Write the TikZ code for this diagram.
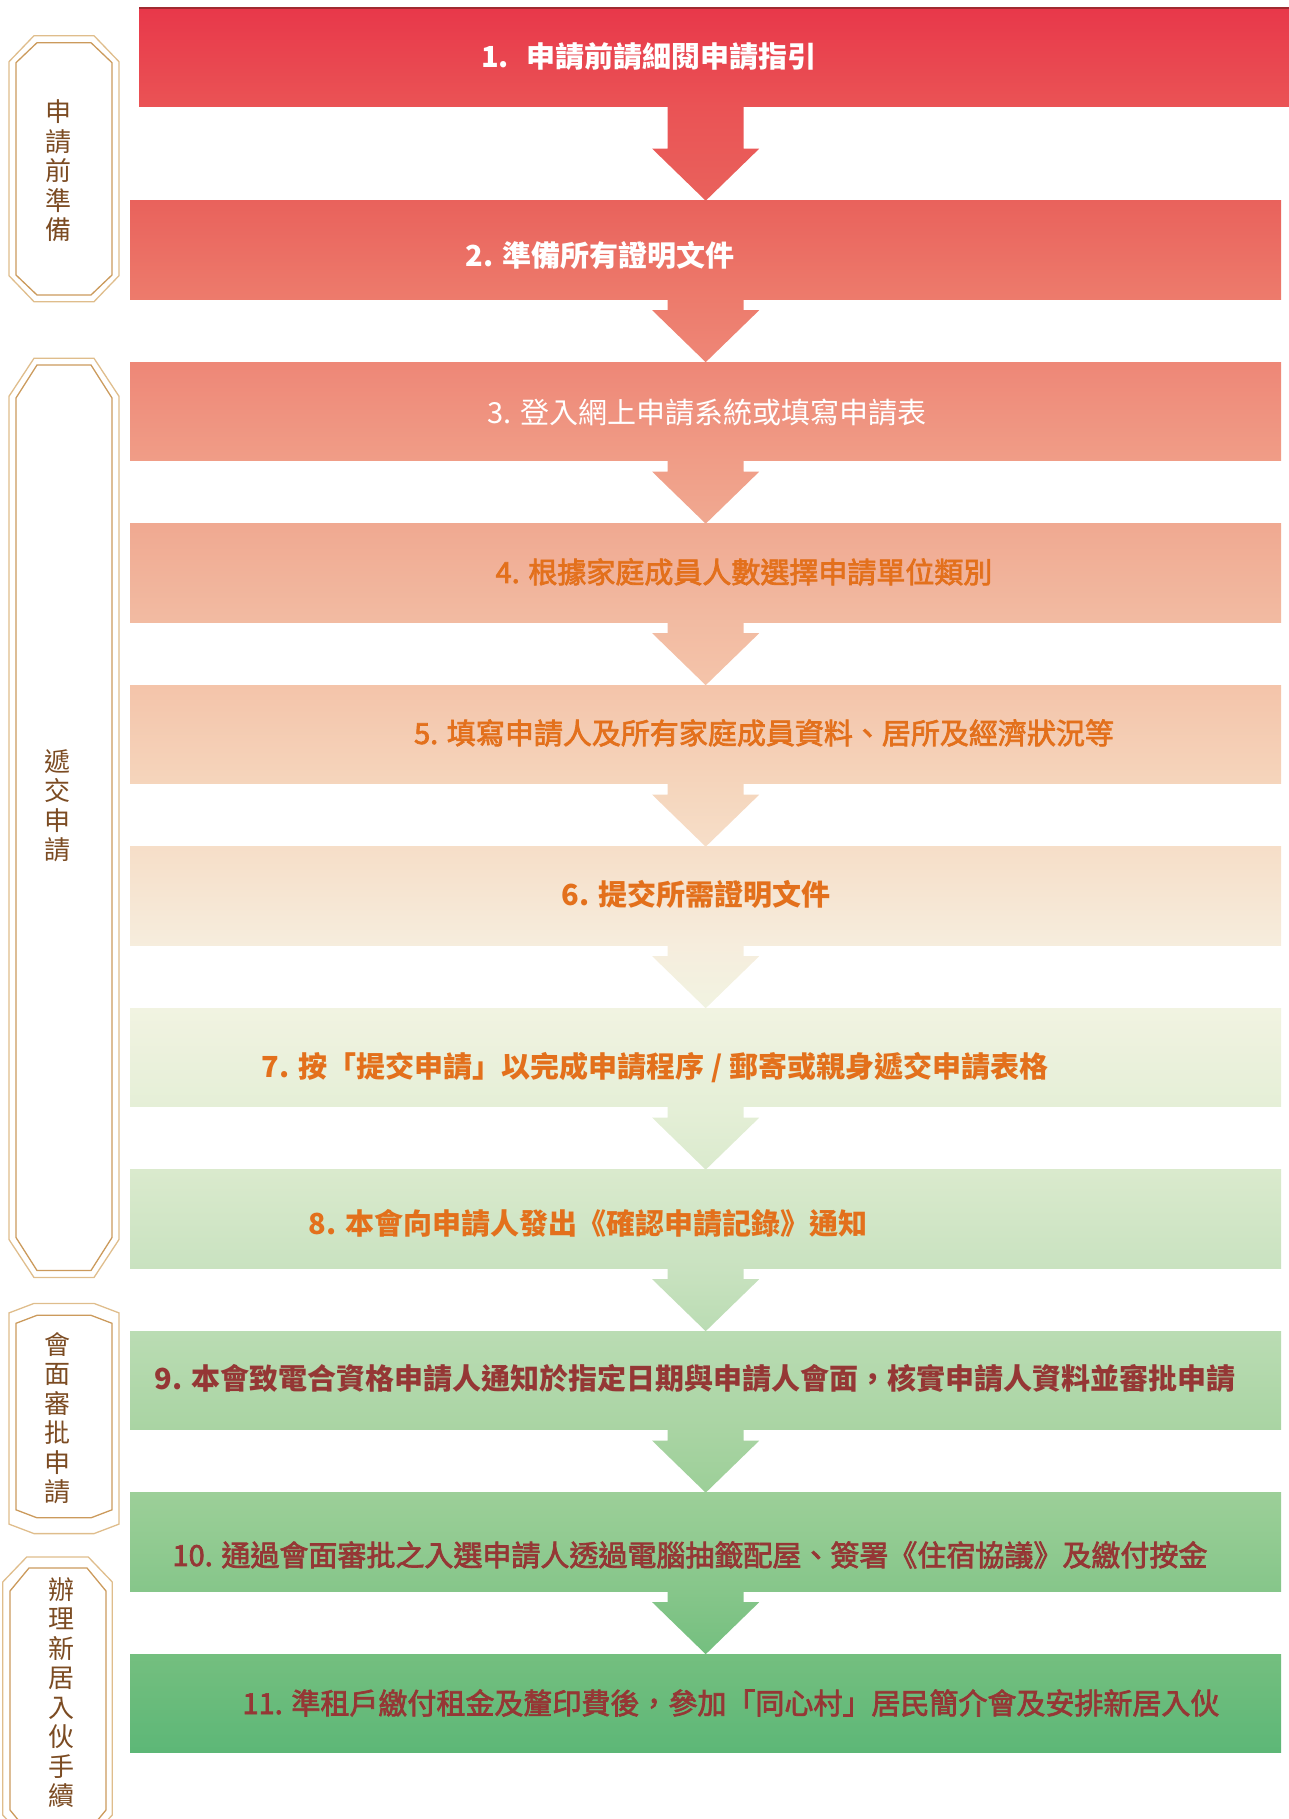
\documentclass[tikz,border=0pt]{standalone}
\usepackage{fontspec}
\setmainfont{Noto Sans CJK TC}
\newfontfamily\cjkmed[FakeBold=2.5]{Noto Sans CJK TC}
\usetikzlibrary{calc}

% bar colours, top and bottom of each bar
\definecolor{top1}{HTML}{E8384A}  \definecolor{bot1}{HTML}{EA5355}
\definecolor{top2}{HTML}{E9625C}  \definecolor{bot2}{HTML}{ED7B6C}
\definecolor{top3}{HTML}{EE8777}  \definecolor{bot3}{HTML}{F09D87}
\definecolor{top4}{HTML}{F0A991}  \definecolor{bot4}{HTML}{F2BBA2}
\definecolor{top5}{HTML}{F4C4AA}  \definecolor{bot5}{HTML}{F5D5BC}
\definecolor{top6}{HTML}{F6DEC8}  \definecolor{bot6}{HTML}{F6EDDD}
\definecolor{top7}{HTML}{F1F3E1}  \definecolor{bot7}{HTML}{E5EFD7}
\definecolor{top8}{HTML}{DAEACD}  \definecolor{bot8}{HTML}{C9E2C0}
\definecolor{top9}{HTML}{BADCB3}  \definecolor{bot9}{HTML}{A9D4A3}
\definecolor{top10}{HTML}{9CCF98} \definecolor{bot10}{HTML}{86C68A}
\definecolor{top11}{HTML}{74BF7F} \definecolor{bot11}{HTML}{5DB777}

\definecolor{txtorange}{HTML}{E3701C}
\definecolor{txtmaroon}{HTML}{953735}
\definecolor{sidebrown}{HTML}{7B4B22}
\definecolor{frameout}{HTML}{DFBD8C}
\definecolor{framein}{HTML}{CB9A5C}
\definecolor{barline}{HTML}{A02A30}

\tikzset{
  bar/.style={inner sep=0, anchor=north west, minimum height=98.5pt},
  txtbold/.style={inner sep=0, font=\fontsize{29}{34}\selectfont\bfseries},
  txtreg/.style={inner sep=0, font=\fontsize{29}{34}\selectfont},
  txtmed/.style={inner sep=0, font=\fontsize{29}{34}\selectfont\cjkmed},
  sidetxt/.style={inner sep=0, align=center, text=sidebrown,
    font=\fontsize{26}{29.5}\selectfont}
}

\begin{document}
\begin{tikzpicture}[x=1pt, y=-1pt]
  \useasboundingbox (0,0) rectangle (1289,1819);

  % the eleven bars
  \foreach \n/\x/\y/\w in {1/139/8/1150, 2/130/200.7/1151, 3/130/362.2/1151,
      4/130/523.7/1151, 5/130/685.2/1151, 6/130/846.7/1151, 7/130/1008.2/1151,
      8/130/1169.7/1151, 9/130/1331.2/1151, 10/130/1492.7/1151, 11/130/1654.2/1151}
    \node[bar, minimum width=\w pt, top color=top\n, bottom color=bot\n] (b\n) at (\x,\y) {};
  \draw[barline, line width=1.5pt] (b1.north west) -- (b1.north east);

  % block arrows between bars
  \foreach \i [count=\j from 2] in {1,...,10}
  {
    \coordinate (a\i) at (b\i.south -| b\j.north);
    \shade[top color=bot\i, bottom color=top\j]
      ($(a\i)+(-38,0)$) -- ($(a\i)+(38,0)$) -- ($(b\j.north)+(38,-52)$)
      -- ($(b\j.north)+(53.5,-52)$) -- (b\j.north) -- ($(b\j.north)+(-53.5,-52)$)
      -- ($(b\j.north)+(-38,-52)$) -- cycle;
  }

  % step texts
  \node[txtbold, text=white] (t1) at (649,57) {1.\hspace{18pt}申請前請細閱申請指引};
  \node[txtbold, text=white] (t2) at (600,255) {2. 準備所有證明文件};
  \node[txtreg, text=white] (t3) at (707,413) {3. 登入網上申請系統或填寫申請表};
  \node[txtmed, text=txtorange] (t4) at (744,572) {4. 根據家庭成員人數選擇申請單位類別};
  \node[txtmed, text=txtorange] (t5) at (764,733) {5. 填寫申請人及所有家庭成員資料、居所及經濟狀況等};
  \node[txtbold, text=txtorange] (t6) at (696,894) {6. 提交所需證明文件};
  \node[txtbold, text=txtorange] (t7) at (655,1067) {7. 按「提交申請」以完成申請程序 / 郵寄或親身遞交申請表格};
  \node[txtbold, text=txtorange] (t8) at (588,1223) {8. 本會向申請人發出《確認申請記錄》通知};
  \node[txtbold, text=txtmaroon] (t9) at (695,1378) {9. 本會致電合資格申請人通知於指定日期與申請人會面，核實申請人資料並審批申請};
  \node[txtmed, text=txtmaroon] (t10) at (690,1555) {10. 通過會面審批之入選申請人透過電腦抽籤配屋、簽署《住宿協議》及繳付按金};
  \node[txtmed, text=txtmaroon] (t11) at (731,1703) {11. 準租戶繳付租金及釐印費後，參加「同心村」居民簡介會及安排新居入伙};

  % stage frames on the left, outer and inner line
  \foreach \xa/\ya/\xb/\yb/\dx/\dy/\c in {9/35.7/119/301.7/25/26/frameout,
      16/42.7/112/295/21/20/framein, 9/358.3/119/1277.5/25/38/frameout,
      16/365/112/1270.5/21/33/framein, 9/1303.4/119/1533.6/25/9.5/frameout,
      16/1315.3/112/1517.8/21/8/framein, 2.7/1557/112.3/1840/24/25/frameout,
      10/1568/106/1833/19/23/framein}
    \draw[\c, line width=1.3pt] (\xa+\dx,\ya) -- (\xb-\dx,\ya) -- (\xb,\ya+\dy)
      -- (\xb,\yb-\dy) -- (\xb-\dx,\yb) -- (\xa+\dx,\yb) -- (\xa,\yb-\dy)
      -- (\xa,\ya+\dy) -- cycle;

  \node[sidetxt] (s1) at (58,171) {申\\請\\前\\準\\備};
  \node[sidetxt] (s2) at (57,806) {遞\\交\\申\\請};
  \node[sidetxt] (s3) at (57,1418) {會\\面\\審\\批\\申\\請};
  \node[sidetxt] (s4) at (61.7,1692.5) {辦\\理\\新\\居\\入\\伙\\手\\續};
\end{tikzpicture}
\end{document}
